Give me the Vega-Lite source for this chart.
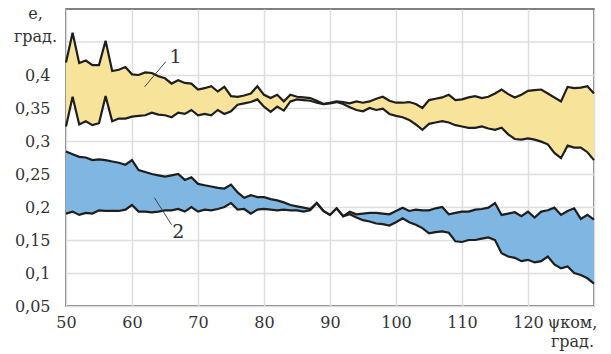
{
"$schema": "https://vega.github.io/schema/vega-lite/v6.json",
"width": 528, "height": 297,
"autosize": {"type": "none"},
"padding": {"left": 66, "top": 9, "right": 17, "bottom": 48},
"background": "white",
"config": {"view": {"stroke": "#555555", "strokeWidth": 1.5},
"axis": {"labelOverlap": false, "labelFlush": false, "labelBound": false, "labelSeparation": 0}},
"datasets": {
"curves": [
{"x":50,"yu":0.419,"yl":0.322,"bu":0.284,"bl":0.190},
{"x":51,"yu":0.464,"yl":0.367,"bu":0.280,"bl":0.193},
{"x":52,"yu":0.418,"yl":0.325,"bu":0.276,"bl":0.188},
{"x":53,"yu":0.422,"yl":0.330,"bu":0.275,"bl":0.191},
{"x":54,"yu":0.415,"yl":0.324,"bu":0.271,"bl":0.190},
{"x":55,"yu":0.415,"yl":0.327,"bu":0.272,"bl":0.195},
{"x":56,"yu":0.452,"yl":0.368,"bu":0.271,"bl":0.194},
{"x":57,"yu":0.406,"yl":0.330,"bu":0.269,"bl":0.194},
{"x":58,"yu":0.408,"yl":0.334,"bu":0.267,"bl":0.194},
{"x":59,"yu":0.412,"yl":0.334,"bu":0.264,"bl":0.196},
{"x":60,"yu":0.401,"yl":0.337,"bu":0.271,"bl":0.203},
{"x":61,"yu":0.400,"yl":0.338,"bu":0.256,"bl":0.193},
{"x":62,"yu":0.404,"yl":0.339,"bu":0.253,"bl":0.193},
{"x":63,"yu":0.403,"yl":0.343,"bu":0.250,"bl":0.192},
{"x":64,"yu":0.398,"yl":0.340,"bu":0.248,"bl":0.193},
{"x":65,"yu":0.395,"yl":0.339,"bu":0.246,"bl":0.195},
{"x":66,"yu":0.387,"yl":0.336,"bu":0.248,"bl":0.195},
{"x":67,"yu":0.392,"yl":0.343,"bu":0.250,"bl":0.197},
{"x":68,"yu":0.388,"yl":0.341,"bu":0.241,"bl":0.193},
{"x":69,"yu":0.387,"yl":0.347,"bu":0.245,"bl":0.200},
{"x":70,"yu":0.378,"yl":0.339,"bu":0.235,"bl":0.193},
{"x":71,"yu":0.380,"yl":0.341,"bu":0.233,"bl":0.196},
{"x":72,"yu":0.383,"yl":0.339,"bu":0.231,"bl":0.195},
{"x":73,"yu":0.375,"yl":0.347,"bu":0.229,"bl":0.197},
{"x":74,"yu":0.382,"yl":0.341,"bu":0.228,"bl":0.200},
{"x":75,"yu":0.368,"yl":0.345,"bu":0.234,"bl":0.206},
{"x":76,"yu":0.367,"yl":0.355,"bu":0.222,"bl":0.196},
{"x":77,"yu":0.369,"yl":0.357,"bu":0.214,"bl":0.197},
{"x":78,"yu":0.372,"yl":0.359,"bu":0.218,"bl":0.190},
{"x":79,"yu":0.383,"yl":0.363,"bu":0.215,"bl":0.196},
{"x":80,"yu":0.370,"yl":0.352,"bu":0.215,"bl":0.197},
{"x":81,"yu":0.365,"yl":0.344,"bu":0.212,"bl":0.196},
{"x":82,"yu":0.370,"yl":0.352,"bu":0.210,"bl":0.195},
{"x":83,"yu":0.360,"yl":0.346,"bu":0.207,"bl":0.196},
{"x":84,"yu":0.370,"yl":0.360,"bu":0.203,"bl":0.195},
{"x":85,"yu":0.367,"yl":0.363,"bu":0.201,"bl":0.195},
{"x":86,"yu":0.366,"yl":0.362,"bu":0.199,"bl":0.193},
{"x":87,"yu":0.365,"yl":0.361,"bu":0.197,"bl":0.195},
{"x":88,"yu":0.361,"yl":0.358,"bu":0.206,"bl":0.206},
{"x":89,"yu":0.356,"yl":0.356,"bu":0.194,"bl":0.194},
{"x":90,"yu":0.358,"yl":0.357,"bu":0.188,"bl":0.188},
{"x":91,"yu":0.360,"yl":0.359,"bu":0.198,"bl":0.198},
{"x":92,"yu":0.359,"yl":0.356,"bu":0.186,"bl":0.186},
{"x":93,"yu":0.357,"yl":0.351,"bu":0.193,"bl":0.189},
{"x":94,"yu":0.360,"yl":0.347,"bu":0.189,"bl":0.184},
{"x":95,"yu":0.358,"yl":0.345,"bu":0.190,"bl":0.180},
{"x":96,"yu":0.360,"yl":0.350,"bu":0.191,"bl":0.178},
{"x":97,"yu":0.364,"yl":0.347,"bu":0.191,"bl":0.175},
{"x":98,"yu":0.367,"yl":0.349,"bu":0.190,"bl":0.174},
{"x":99,"yu":0.361,"yl":0.341,"bu":0.189,"bl":0.172},
{"x":100,"yu":0.358,"yl":0.338,"bu":0.194,"bl":0.177},
{"x":101,"yu":0.358,"yl":0.336,"bu":0.199,"bl":0.183},
{"x":102,"yu":0.359,"yl":0.332,"bu":0.194,"bl":0.177},
{"x":103,"yu":0.356,"yl":0.325,"bu":0.196,"bl":0.173},
{"x":104,"yu":0.350,"yl":0.317,"bu":0.195,"bl":0.168},
{"x":105,"yu":0.362,"yl":0.326,"bu":0.195,"bl":0.160},
{"x":106,"yu":0.364,"yl":0.328,"bu":0.198,"bl":0.162},
{"x":107,"yu":0.366,"yl":0.330,"bu":0.200,"bl":0.163},
{"x":108,"yu":0.370,"yl":0.328,"bu":0.189,"bl":0.161},
{"x":109,"yu":0.362,"yl":0.324,"bu":0.191,"bl":0.148},
{"x":110,"yu":0.363,"yl":0.322,"bu":0.193,"bl":0.147},
{"x":111,"yu":0.366,"yl":0.320,"bu":0.193,"bl":0.150},
{"x":112,"yu":0.368,"yl":0.320,"bu":0.196,"bl":0.150},
{"x":113,"yu":0.365,"yl":0.322,"bu":0.197,"bl":0.152},
{"x":114,"yu":0.367,"yl":0.319,"bu":0.199,"bl":0.154},
{"x":115,"yu":0.372,"yl":0.317,"bu":0.206,"bl":0.150},
{"x":116,"yu":0.378,"yl":0.320,"bu":0.188,"bl":0.130},
{"x":117,"yu":0.371,"yl":0.310,"bu":0.190,"bl":0.125},
{"x":118,"yu":0.366,"yl":0.303,"bu":0.192,"bl":0.123},
{"x":119,"yu":0.370,"yl":0.302,"bu":0.186,"bl":0.118},
{"x":120,"yu":0.376,"yl":0.304,"bu":0.193,"bl":0.120},
{"x":121,"yu":0.377,"yl":0.302,"bu":0.184,"bl":0.116},
{"x":122,"yu":0.378,"yl":0.299,"bu":0.193,"bl":0.118},
{"x":123,"yu":0.372,"yl":0.295,"bu":0.195,"bl":0.125},
{"x":124,"yu":0.366,"yl":0.282,"bu":0.199,"bl":0.113},
{"x":125,"yu":0.360,"yl":0.274,"bu":0.188,"bl":0.107},
{"x":126,"yu":0.382,"yl":0.293,"bu":0.194,"bl":0.110},
{"x":127,"yu":0.380,"yl":0.290,"bu":0.198,"bl":0.100},
{"x":128,"yu":0.381,"yl":0.290,"bu":0.182,"bl":0.097},
{"x":129,"yu":0.383,"yl":0.283,"bu":0.188,"bl":0.092},
{"x":130,"yu":0.372,"yl":0.271,"bu":0.181,"bl":0.084}
],
"grid45": [{"y": 0.45}],
"labels": [
{"x":66.6,"y":0.427,"t":"1"},
{"x":67.0,"y":0.162,"t":"2"}
],
"leaders": [
{"x":65.1,"y":0.420,"x2":61.9,"y2":0.382},
{"x":63.4,"y":0.214,"x2":66.0,"y2":0.173}
]
},
"layer": [
{
"data": {"name": "grid45"},
"mark": {"type": "rule", "color": "#dedede", "strokeWidth": 1.5},
"encoding": {
"y": {"field": "y", "type": "quantitative",
"scale": {"domain": [0.05, 0.5], "nice": false, "zero": false},
"axis": {"values": [0.05,0.1,0.15,0.2,0.25,0.3,0.35,0.4], "grid": true, "gridColor": "#dedede", "gridWidth": 1.5,
"domain": false, "ticks": false, "labelPadding": 16, "labelOverlap": false, "labelFlush": false,
"labelExpr": "replace(replace(format(datum.value, '.2f'), '.', ','), /0$/, '')",
"labelFont": "DejaVu Serif", "labelFontSize": 16, "labelColor": "#333333",
"title": ["e,", "град."], "titleFont": "DejaVu Serif", "titleFontSize": 16, "titleFontWeight": "normal",
"titleColor": "#333333", "titleAngle": 0, "titleAlign": "center", "titleBaseline": "top",
"titleX": -31, "titleY": -4, "titleLineHeight": 23}}
}
},
{
"data": {"name": "curves"},
"mark": {"type": "area", "color": "#F8E39A", "opacity": 1},
"encoding": {
"x": {"field": "x", "type": "quantitative",
"scale": {"domain": [50, 130], "nice": false, "zero": false},
"axis": {"values": [50,60,70,80,90,100,110,120,130], "grid": true, "gridColor": "#dedede", "gridWidth": 1.5,
"domain": false, "ticks": false, "labelPadding": 8, "labelOverlap": false, "labelFlush": false,
"labelExpr": "datum.value >= 130 ? '' : format(datum.value, 'd')",
"labelFont": "DejaVu Serif", "labelFontSize": 16, "labelColor": "#333333",
"title": ["ψком,", "град."], "titleFont": "DejaVu Serif", "titleFontSize": 16, "titleFontWeight": "normal",
"titleColor": "#333333", "titleAngle": 0, "titleAlign": "center", "titleBaseline": "top",
"titleX": 506, "titleY": 8, "titleLineHeight": 19}},
"y": {"field": "yu", "type": "quantitative"},
"y2": {"field": "yl"}
}
},
{
"data": {"name": "curves"},
"mark": {"type": "area", "color": "#7FB6E2", "opacity": 1},
"encoding": {
"x": {"field": "x", "type": "quantitative"},
"y": {"field": "bu", "type": "quantitative"},
"y2": {"field": "bl"}
}
},
{
"data": {"name": "curves"},
"transform": [{"fold": ["yu", "yl", "bu", "bl"], "as": ["series", "v"]}],
"mark": {"type": "line", "color": "#1e1e1e", "strokeWidth": 2.2, "strokeJoin": "miter"},
"encoding": {
"x": {"field": "x", "type": "quantitative"},
"y": {"field": "v", "type": "quantitative"},
"detail": {"field": "series"}
}
},
{
"data": {"name": "leaders"},
"mark": {"type": "rule", "color": "#444444", "strokeWidth": 1},
"encoding": {
"x": {"field": "x", "type": "quantitative"},
"y": {"field": "y", "type": "quantitative"},
"x2": {"field": "x2"},
"y2": {"field": "y2"}
}
},
{
"data": {"name": "labels"},
"mark": {"type": "text", "font": "DejaVu Serif", "fontSize": 19, "color": "#333333", "align": "center", "baseline": "middle"},
"encoding": {
"x": {"field": "x", "type": "quantitative"},
"y": {"field": "y", "type": "quantitative"},
"text": {"field": "t"}
}
}
]
}
